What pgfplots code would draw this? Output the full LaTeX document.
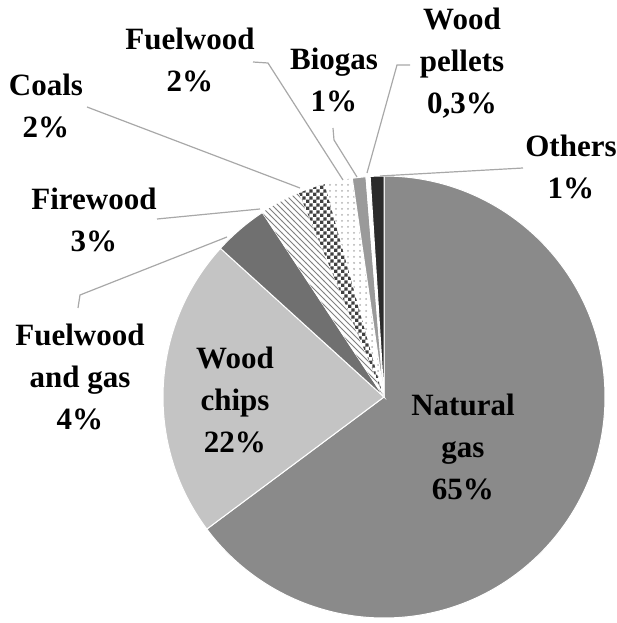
\documentclass[border=0pt]{standalone}
\usepackage{fontspec}
\setmainfont{Liberation Serif}[BoldFont={Liberation Serif Bold}]
\newfontfamily\labfont{Liberation Serif Bold}
\usepackage{pgfplots}
\pgfplotsset{compat=1.18}
\usepackage{pgfplotstable}
\usetikzlibrary{patterns}

\pgfdeclarepatternformonly{finechecker}{\pgfpointorigin}{\pgfqpoint{3.4pt}{3.4pt}}{\pgfqpoint{3.4pt}{3.4pt}}{%
  \pgfpathrectangle{\pgfpointorigin}{\pgfqpoint{1.7pt}{1.7pt}}%
  \pgfpathrectangle{\pgfqpoint{1.7pt}{1.7pt}}{\pgfqpoint{1.7pt}{1.7pt}}%
  \pgfusepath{fill}}

\definecolor{cng}{HTML}{8A8A8A}
\definecolor{cwc}{HTML}{C4C4C4}
\definecolor{cfg}{HTML}{707070}
\definecolor{cbio}{HTML}{9A9A9A}
\definecolor{coth}{HTML}{2B2B2B}
\definecolor{clead}{HTML}{A8A8A8}

\pgfplotstableread[col sep=comma]{
name,value
Natural gas,65
Wood chips,22
Fuelwood and gas,4
Firewood,3
Coals,2
Fuelwood,2
Biogas,1
Wood pellets,0.3
Others,1
}\piedata

\tikzset{
  sl/.style={draw=white, line width=0.5pt},
  slice0/.style={sl, fill=cng},
  slice1/.style={sl, fill=cwc},
  slice2/.style={sl, fill=cfg},
  slice3/.style={sl, fill=white, postaction={pattern=north west lines, pattern color=gray}},
  slice4/.style={sl, fill=white, postaction={pattern=finechecker, pattern color=black!75}},
  slice5/.style={sl, fill=white, postaction={pattern=dots, pattern color=gray!60}},
  slice6/.style={sl, fill=cbio},
  slice7/.style={sl, fill=white},
  slice8/.style={sl, fill=coth},
  lab/.style={align=center, inner sep=0pt, text=black,
    font=\labfont\fontsize{15.5}{21}\selectfont},
  leader/.style={clead, line width=0.6pt, no markers, sharp plot}
}

\begin{document}
\begin{tikzpicture}
\useasboundingbox (0,0) rectangle (308.5pt,311.5pt);
\begin{axis}[hide axis, x=0.5pt, y=0.5pt, xmin=0, xmax=617, ymin=0, ymax=623,
  clip=false, anchor=origin, at={(0,0)}]
\pgfplotstablegetrowsof{\piedata}
\pgfmathtruncatemacro\N{\pgfplotsretval-1}
\def\tot{0}
\pgfplotsforeachungrouped \i in {0,...,\N}{%
  \pgfplotstablegetelem{\i}{value}\of\piedata
  \pgfmathsetmacro\tot{\tot+\pgfplotsretval}%
}
\def\cum{0}
\pgfplotsforeachungrouped \i in {0,...,\N}{%
  \pgfplotstablegetelem{\i}{value}\of\piedata
  \let\v\pgfplotsretval
  \pgfmathsetmacro\a{90-360*(\cum/\tot)}%
  \pgfmathsetmacro\b{90-360*((\cum+\v)/\tot)}%
  \edef\temp{\noexpand\fill[slice\i] (axis cs:384,226) -- ++(\a:110.5pt) arc[start angle=\a, end angle=\b, radius=110.5pt] -- cycle;}%
  \temp
  \pgfmathsetmacro\cum{\cum+\v}%
}
% leader lines
\addplot[leader] coordinates {(87,516) (300,435)};
\addplot[leader] coordinates {(157,404) (260,414)};
\addplot[leader] coordinates {(78,315) (80,328) (227,386)};
\addplot[leader] coordinates {(253,561) (268,560) (343,443)};
\addplot[leader] coordinates {(333,495) (334,483) (357,446)};
\addplot[leader] coordinates {(410,558) (397,558) (367,450)};
\addplot[leader] coordinates {(523,455) (380,447)};
% labels
\node[lab] at (axis cs:46,517.5) {Coals\\2\%};
\node[lab] at (axis cs:94,403.5) {Firewood\\3\%};
\node[lab] at (axis cs:80,246.5) {Fuelwood\\and gas\\4\%};
\node[lab] at (axis cs:235,223) {Wood\\chips\\22\%};
\node[lab] at (axis cs:463,176) {Natural\\gas\\65\%};
\node[lab] at (axis cs:190,563) {Fuelwood\\2\%};
\node[lab] at (axis cs:334,543.5) {Biogas\\1\%};
\node[lab] at (axis cs:462,560) {Wood\\pellets\\0,3\%};
\node[lab] at (axis cs:571,456.5) {Others\\1\%};
\end{axis}
\end{tikzpicture}
\end{document}
